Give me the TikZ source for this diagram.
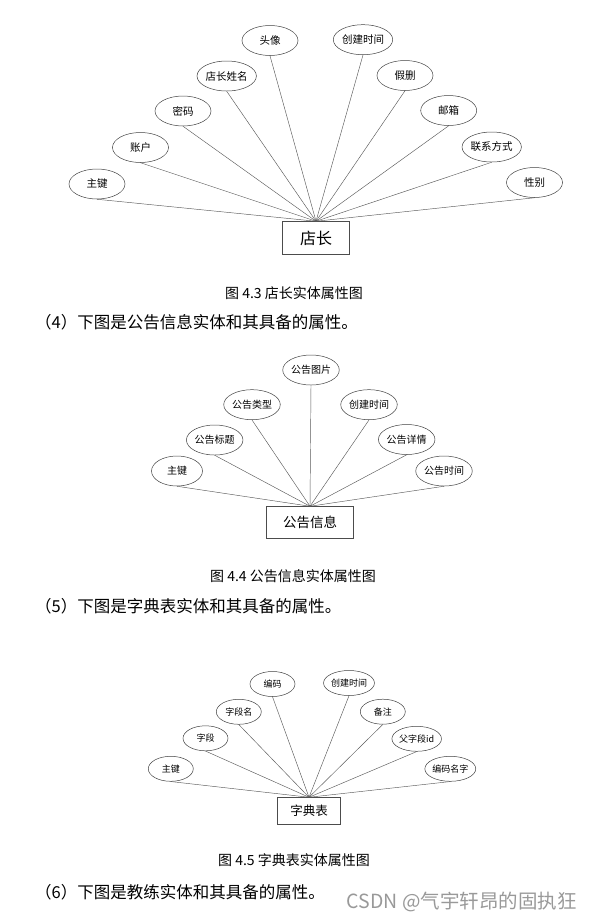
\documentclass[tikz,border=0pt]{standalone}
\usepackage{fontspec}
\setmainfont{Noto Sans CJK SC}
\usepackage{tikz}
\usetikzlibrary{positioning, shapes.geometric}

\begin{document}
\begin{tikzpicture}[x=1pt, y=-1pt,
  attr/.style={draw=black!75, ellipse, line width=.5pt, inner sep=0pt, minimum width=56pt, minimum height=30pt, font=\fontsize{10.5}{12}\selectfont},
  attrb/.style={attr, minimum width=51pt, minimum height=30pt, font=\fontsize{10}{12}\selectfont},
  attrc/.style={attr, minimum width=45pt, minimum height=25pt, font=\fontsize{9}{11}\selectfont},
  entity/.style={draw=black!70, rectangle, line width=.5pt, inner sep=0pt},
  link/.style={draw=black!65, line width=.45pt},
  caption/.style={font=\fontsize{14}{16}\selectfont, anchor=center},
  para/.style={font=\fontsize{16.5}{18}\selectfont, anchor=west, inner sep=0pt}]
  \useasboundingbox (0,0) rectangle (591,922);

  % 4.3 shop manager
  \node[entity, minimum width=67pt, minimum height=33pt, font=\fontsize{16}{18}\selectfont] (shop) at (316,238) {店长};
  \node[attr] (s1) at (97,184) {主键};
  \node[attr] (s2) at (140.5,147.5) {账户};
  \node[attr] (s3) at (183,111) {密码};
  \node[attr] (s4) at (226.7,76) {店长姓名};
  \node[attr] (s5) at (270,40.5) {头像};
  \node[attr] (s6) at (363,39.7) {创建时间};
  \node[attr] (s7) at (405,75.5) {假删};
  \node[attr] (s8) at (448.7,110.5) {邮箱};
  \node[attr] (s9) at (491.7,147) {联系方式};
  \node[attr] (s10) at (534.5,182.5) {性别};
  \path[link]
    (s1.south) edge (shop.north)
    (s2.south) edge (shop.north)
    (s3.south) edge (shop.north)
    (s4.south) edge (shop.north)
    (s5.south) edge (shop.north)
    (s6.south) edge (shop.north)
    (s7.south) edge (shop.north)
    (s8.south) edge (shop.north)
    (s9.south) edge (shop.north)
    (s10.south) edge (shop.north);
  \node[caption] (cap1) at (294,293) {图 4.3 店长实体属性图};
  \node[para] (par4) at (35,322) {（4）下图是公告信息实体和其具备的属性。};

  % 4.4 notice
  \node[entity, minimum width=87pt, minimum height=32pt, font=\fontsize{13.5}{16}\selectfont] (notice) at (310,522.5) {公告信息};
  \node[attrb] (n1) at (177,471) {主键};
  \node[attrb] (n2) at (214.7,440) {公告标题};
  \node[attrb] (n3) at (252,404.7) {公告类型};
  \node[attrb] (n4) at (311,370) {公告图片};
  \node[attrb] (n5) at (369,404.7) {创建时间};
  \node[attrb] (n6) at (406.7,439.5) {公告详情};
  \node[attrb] (n7) at (444,471) {公告时间};
  \path[link]
    (n1.south) edge (notice.north)
    (n2.south) edge (notice.north)
    (n3.south) edge (notice.north)
    (n4.south) edge (notice.north)
    (n5.south) edge (notice.north)
    (n6.south) edge (notice.north)
    (n7.south) edge (notice.north);
  \node[caption] (cap2) at (293,576) {图 4.4 公告信息实体属性图};
  \node[para] (par5) at (35,606) {（5）下图是字典表实体和其具备的属性。};

  % 4.5 dictionary
  \node[entity, minimum width=63pt, minimum height=27pt, font=\fontsize{12.5}{15}\selectfont] (dict) at (309,811) {字典表};
  \node[attrc] (d1) at (170.8,768.8) {主键};
  \node[attrc] (d2) at (205.5,738.3) {字段};
  \node[attrc] (d3) at (238.8,711.8) {字段名};
  \node[attrc] (d4) at (272.5,684) {编码};
  \node[attrc] (d5) at (349,683) {创建时间};
  \node[attrc] (d6) at (382.8,711.7) {备注};
  \node[attrc] (d7) at (416.7,738.8) {父字段id};
  \node[attrc] (d8) at (450.3,768.8) {编码名字};
  \path[link]
    (d1.south) edge (dict.north)
    (d2.south) edge (dict.north)
    (d3.south) edge (dict.north)
    (d4.south) edge (dict.north)
    (d5.south) edge (dict.north)
    (d6.south) edge (dict.north)
    (d7.south) edge (dict.north)
    (d8.south) edge (dict.north);
  \node[caption] (cap3) at (294,860) {图 4.5 字典表实体属性图};
  \node[para] (par6) at (35,892) {（6）下图是教练实体和其具备的属性。};
  \node[font=\fontsize{19.5}{21}\selectfont, text=black!40, anchor=east, inner sep=0pt] (mark) at (577,902) {CSDN @气宇轩昂的固执狂};
\end{tikzpicture}
\end{document}
